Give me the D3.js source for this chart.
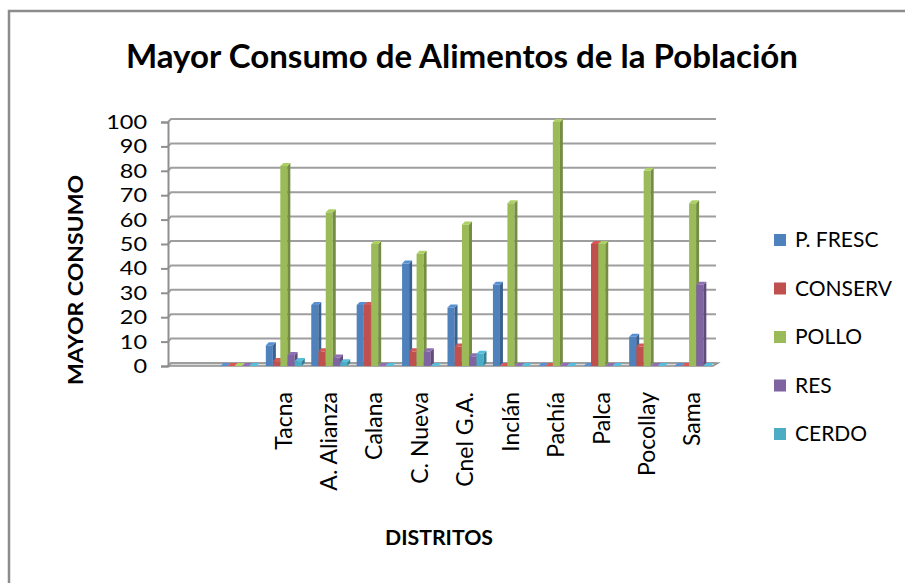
<!DOCTYPE html>
<html>
<head>
<meta charset="utf-8">
<script src="https://cdn.jsdelivr.net/npm/d3@7"></script>
<style>
  html, body { margin: 0; padding: 0; background: #ffffff; }
  svg { display: block; font-family: Lato, "Open Sans", sans-serif; }
</style>
</head>
<body>
<svg id="chart" width="905" height="583"></svg>
<script>
// Category slots: the first is empty, the second is an unnamed row of zeros
const categories = ["", "", "Tacna", "A. Alianza", "Calana", "C. Nueva", "Cnel G.A.", "Inclán", "Pachía", "Palca", "Pocollay", "Sama"];
const series = ["P. FRESC", "CONSERV", "POLLO", "RES", "CERDO"];
const colors = ["#4f81bd", "#c0504d", "#9bbb59", "#8064a2", "#4bacc6"];

// Percent of households per district and food
const pFresc  = [null, 0, 8.5, 25, 25, 42, 24, 33.3, 0, 0, 12, 0];
const conserv = [null, 0, 2, 6, 25, 6, 8, 0, 0, 50, 8, 0];
const pollo   = [null, 0, 82, 63, 50, 46, 58, 66.7, 100, 50, 80, 66.7];
const res     = [null, 0, 4.5, 3.5, 0, 6, 4, 0, 0, 0, 0, 33.3];
const cerdo   = [null, 0, 2, 1.5, 0, 0, 5, 0, 0, 0, 0, 0];
const yTicks  = [0, 10, 20, 30, 40, 50, 60, 70, 80, 90, 100];

const seriesValues = [pFresc, conserv, pollo, res, cerdo];

const svg = d3.select("#chart");

// Outer chart frame
svg.append("path")
  .attr("d", "M9,583 V11 H905")
  .attr("fill", "none").attr("stroke", "#8c8c8c").attr("stroke-width", 2.5);

// Title
svg.append("text")
  .attr("x", 462).attr("y", 68)
  .attr("text-anchor", "middle")
  .attr("font-size", 33).attr("font-weight", 700)
  .attr("textLength", 672).attr("lengthAdjust", "spacingAndGlyphs")
  .attr("fill", "#000")
  .text("Mayor Consumo de Alimentos de la Población");

// Depth offset for the 3-D look
const DX = 3, DY = -3;

const x = d3.scaleBand().domain(d3.range(categories.length)).range([168, 713]);
const xs = d3.scaleBand().domain(series).range([7, 43]).paddingInner(0.03);
const y = d3.scaleLinear().domain([0, 100]).range([366, 122]);

const plot = svg.append("g");

// Floor slab
plot.append("path")
  .attr("d", `M168,${y(0)} L${713},${y(0)} L${713 + DX + 2},${y(0) + DY} L${168 + DX},${y(0) + DY} Z`)
  .attr("fill", "#d9d9d9").attr("stroke", "#8f8f8f").attr("stroke-width", 1.5);

// Back-wall gridlines with a short connector to the axis
const grid = plot.append("g");
yTicks.forEach(t => {
  grid.append("path")
    .attr("d", `M168,${y(t)} L${168 + DX},${y(t) + DY} L716,${y(t) + DY}`)
    .attr("fill", "none").attr("stroke", "#9e9e9e").attr("stroke-width", 2);
});

// Value axis
const yAxis = d3.axisLeft(y).tickValues(yTicks).tickSize(7).tickPadding(14);
const ya = plot.append("g").attr("transform", "translate(168,0)").call(yAxis);
ya.select(".domain").attr("stroke", "#8f8f8f").attr("stroke-width", 2);
ya.selectAll(".tick line").attr("stroke", "#8f8f8f").attr("stroke-width", 2);
ya.selectAll(".tick text")
  .attr("font-family", "Lato, sans-serif").attr("font-size", 20).attr("fill", "#000")
  .attr("textLength", function () { return this.textContent.length * 13.6; })
  .attr("lengthAdjust", "spacingAndGlyphs");

// Bars drawn as front face + side + top
const shade = (c, k) => d3.color(c).darker(k).formatHex();
const tint = (c, k) => d3.color(c).brighter(k).formatHex();

const bars = plot.append("g");
categories.forEach((cat, i) => {
  series.forEach((s, j) => {
    const v = seriesValues[j][i];
    if (v === null) return;
    const x0 = x(i) + xs(s);
    const w = xs.bandwidth();
    const yt = y(v), yb = y(0);
    const c = colors[j];
    const g = bars.append("g");
    if (yb - yt > 0.5) {
      g.append("rect").attr("x", x0).attr("y", yt).attr("width", w).attr("height", yb - yt)
        .attr("fill", c);
      g.append("path")
        .attr("d", `M${x0 + w},${yt} L${x0 + w + DX},${yt + DY} L${x0 + w + DX},${yb + DY} L${x0 + w},${yb} Z`)
        .attr("fill", shade(c, 0.8));
    }
    g.append("path")
      .attr("d", `M${x0},${yt} L${x0 + DX},${yt + DY} L${x0 + w + DX},${yt + DY} L${x0 + w},${yt} Z`)
      .attr("fill", tint(c, 0.3));
  });
});

// Category labels, rotated
const xa = plot.append("g");
categories.forEach((cat, i) => {
  if (!cat) return;
  const cx = x(i) + x.bandwidth() / 2 + 2;
  xa.append("text")
    .attr("transform", `translate(${cx},392) rotate(-90)`)
    .attr("text-anchor", "end").attr("dy", "0.35em")
    .attr("font-size", 23).attr("fill", "#000")
    .text(cat);
});

// Axis titles
svg.append("text")
  .attr("transform", "translate(76,280) rotate(-90)")
  .attr("text-anchor", "middle").attr("dy", "0.35em")
  .attr("font-size", 20).attr("font-weight", 700)
  .attr("textLength", 210).attr("lengthAdjust", "spacingAndGlyphs")
  .text("MAYOR CONSUMO");

svg.append("text")
  .attr("x", 439).attr("y", 545)
  .attr("text-anchor", "middle")
  .attr("font-size", 20).attr("font-weight", 700)
  .attr("textLength", 108).attr("lengthAdjust", "spacingAndGlyphs")
  .text("DISTRITOS");

// Legend
const legend = svg.append("g");
series.forEach((s, j) => {
  const cy = 240 + j * 48.5;
  legend.append("rect").attr("x", 774).attr("y", cy - 6).attr("width", 12).attr("height", 12)
    .attr("fill", colors[j]);
  legend.append("text").attr("x", 795).attr("y", cy).attr("dy", "0.35em")
    .attr("font-size", 21).attr("fill", "#000").text(s);
});
</script>
</body>
</html>
